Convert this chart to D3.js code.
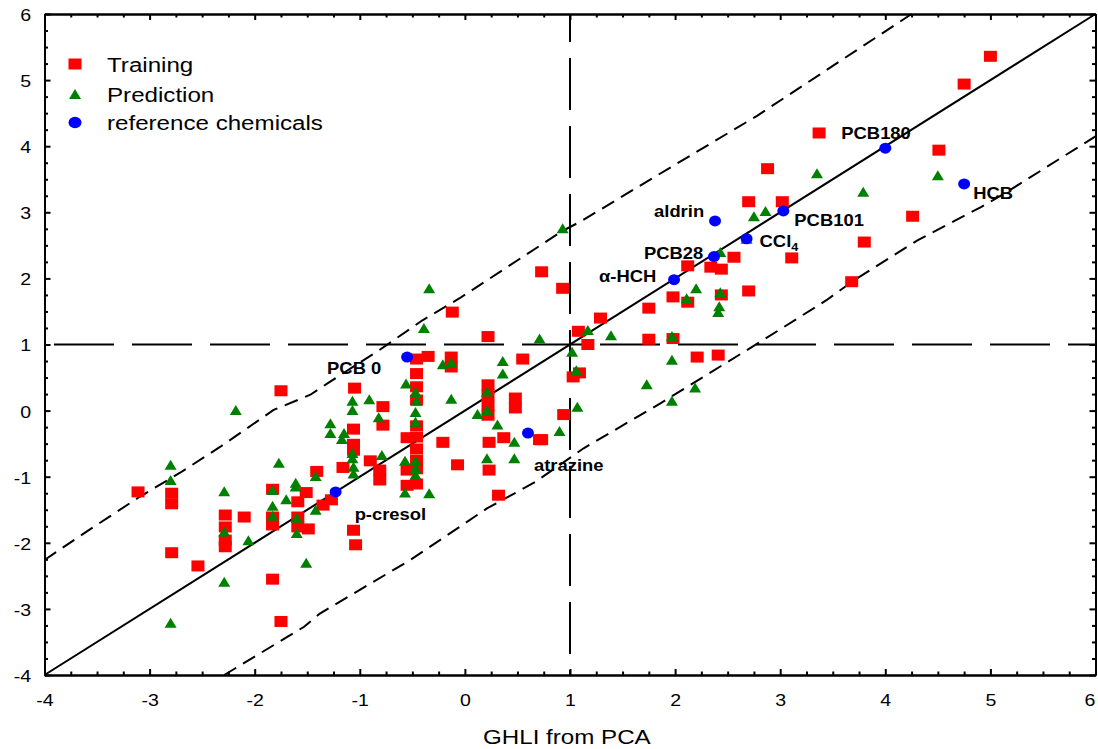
<!DOCTYPE html>
<html>
<head>
<meta charset="utf-8">
<script src="https://cdnjs.cloudflare.com/ajax/libs/d3/7.8.5/d3.min.js"></script>
<style>
  body { margin: 0; background: #fff; }
  svg text { font-family: "Liberation Sans", Arial, Helvetica, sans-serif; fill: #000; }
</style>
</head>
<body>
<div id="scatter"></div>
<script>
// Values (x = GHLI from PCA, y = predicted)
var training = [
  [5.00,5.36],[4.75,4.94],[3.37,4.20],[4.51,3.94],[2.88,3.66],[2.70,3.16],[3.02,3.16],[4.26,2.94],
  [3.80,2.55],[3.11,2.31],[2.56,2.32],[2.12,2.19],[2.34,2.17],[2.44,2.14],[2.70,1.81],[2.44,1.75],
  [2.12,1.64],[1.98,1.72],[1.75,1.55],[1.29,1.40],[0.93,1.85],[3.68,1.95],[0.73,2.10],[1.08,1.20],
  [1.17,1.00],[1.75,1.08],[1.98,1.09],[2.21,0.81],[2.41,0.84],[1.03,0.51],[1.09,0.57],[0.94,-0.06],
  [0.73,-0.44],[-0.12,1.49],[0.22,1.12],[-0.35,0.82],[-0.46,0.78],[-0.13,0.81],[-0.13,0.66],[0.55,0.78],
  [-0.46,0.56],[-0.46,0.36],[-0.46,0.16],[0.22,0.39],[0.22,0.24],[0.22,0.08],[0.22,-0.07],[0.48,0.19],
  [0.48,0.04],[-0.78,0.06],[-0.78,-0.22],[-0.55,-0.41],[-0.46,-0.23],[-0.46,-0.40],[-0.46,-0.58],[-0.46,-0.75],
  [-0.46,-0.88],[-0.46,-1.11],[-0.21,-0.48],[0.23,-0.48],[0.37,-0.41],[0.71,-0.44],[-0.07,-0.82],[0.23,-0.90],
  [-0.55,-0.90],[-0.55,-1.13],[0.32,-1.28],[-1.05,0.34],[-1.06,-0.28],[-1.06,-0.51],[-1.06,-0.60],[-1.16,-0.86],
  [-0.90,-0.76],[-0.81,-0.90],[-0.81,-1.05],[-1.41,-0.92],[-1.51,-1.24],[-1.27,-1.35],[-1.35,-1.43],[-1.83,-1.19],
  [-1.59,-1.38],[-2.28,-1.58],[-2.10,-1.61],[-1.83,-1.61],[-1.83,-1.73],[-1.59,-1.61],[-1.59,-1.76],[-1.49,-1.79],
  [-2.28,-1.76],[-2.28,-1.96],[-2.28,-2.06],[-1.06,-1.81],[-1.04,-2.03],[-1.75,0.30],[-3.11,-1.23],[-2.79,-1.25],
  [-2.79,-1.41],[-2.79,-2.15],[-2.54,-2.35],[-1.83,-2.55],[-1.75,-3.19]
];

var prediction = [
  [0.93,2.76],[3.35,3.59],[4.50,3.56],[3.79,3.31],[2.75,2.94],[2.86,3.02],[2.68,2.60],[2.43,2.40],
  [2.20,1.85],[2.11,1.70],[2.43,1.79],[2.42,1.58],[2.41,1.49],[1.17,1.22],[1.39,1.14],[1.02,0.89],
  [1.06,0.61],[1.97,1.13],[1.97,0.77],[1.73,0.40],[2.19,0.35],[1.97,0.15],[1.07,0.06],[0.90,-0.31],
  [0.71,1.09],[-0.34,1.85],[-0.39,1.25],[-0.21,0.70],[-0.13,0.73],[0.36,0.75],[0.36,0.56],[-0.56,0.41],
  [-0.13,0.18],[-0.47,0.28],[-0.46,0.15],[-0.47,-0.02],[-0.47,-0.17],[0.21,0.29],[0.21,0.01],[0.12,-0.05],
  [0.31,-0.21],[0.47,-0.47],[0.21,-0.72],[0.47,-0.72],[-0.79,-0.67],[-0.57,-0.76],[-0.47,-0.76],[-0.47,-0.87],
  [-0.47,-0.97],[-0.57,-1.24],[-0.34,-1.25],[-0.91,0.17],[-1.07,0.15],[-1.07,0.01],[-0.82,-0.10],[-1.28,-0.19],
  [-1.28,-0.34],[-1.15,-0.34],[-1.17,-0.43],[-1.07,-0.64],[-1.07,-0.72],[-1.06,-0.85],[-1.06,-0.95],[-1.42,-0.99],
  [-1.61,-1.09],[-1.61,-1.15],[-2.29,-1.22],[-1.83,-1.20],[-1.70,-1.34],[-1.83,-1.44],[-1.83,-1.59],[-1.60,-1.62],
  [-1.42,-1.50],[-2.29,-1.83],[-2.06,-1.96],[-1.60,-1.85],[-2.18,0.01],[-1.77,-0.79],[-2.80,-0.82],[-2.80,-1.05],
  [-2.29,-2.59],[-2.80,-3.21],[-1.51,-2.30]
];

var refNames = ["PCB180", "HCB", "aldrin", "PCB101", "CCl", "PCB28", "\u03b1-HCH", "PCB 0", "p-cresol", "atrazine"];
var refValues = [
  [4.00,3.97],[4.75,3.43],[2.38,2.87],[3.03,3.02],[2.68,2.60],[2.37,2.33],[1.99,1.98],[-0.55,0.81],[-1.23,-1.23],[0.60,-0.34]
];
// where each name sits relative to its point, in pixels (text start, baseline)
var labelOffsets = [[-44,-9],[9,15],[-61,-4],[11,15],[13,8],[-70,2],[-75,2],[-80,17],[19,28],[6,38]];

var upperBand = [
  [-4.00,-2.26],[-3.60,-1.83],[-3.09,-1.30],[-2.71,-0.94],[-2.33,-0.55],[-1.82,0.01],[-1.47,0.24],[-1.30,0.42],
  [-0.81,0.92],[-0.40,1.37],[-0.05,1.70],[0.92,2.71],[1.10,2.86],[1.81,3.54],[2.78,4.46],[4.25,6.00]
];
var lowerBand = [
  [-2.29,-4.00],[-1.53,-3.27],[-1.38,-3.07],[-0.52,-2.26],[0.21,-1.48],[0.67,-1.08],[1.13,-0.57],[1.86,0.11],
  [2.81,1.04],[3.44,1.67],[3.71,1.98],[4.31,2.58],[4.91,3.08],[5.14,3.29],[6.00,4.15]
];
var fitLine = [[-4,-4],[6,6]];
var cutOff = 1;

var majorTicks = [-4,-3,-2,-1,0,1,2,3,4,5,6];
var minorTicks = d3.range(-4, 6.001, 0.25).filter(d => d % 1 !== 0);
var legendNames = ["Training", "Prediction", "reference chemicals"];
var xTitle = "GHLI from PCA";

// SVG area and margins
var svgWidth = 1098;
var svgHeight = 749;
var chartMargin = { top: 14, right: 2.5, bottom: 74, left: 44.5 };
var chartWidth = svgWidth - chartMargin.left - chartMargin.right;
var chartHeight = svgHeight - chartMargin.top - chartMargin.bottom;

// the source picture is a little wider than tall, so text gets stretched the same way
var stretch = 1.15;
function widen(sel) {
  sel.each(function() {
    var t = d3.select(this);
    var x = +t.attr("x") || 0, y = +t.attr("y") || 0;
    t.attr("x", 0).attr("y", 0)
      .attr("transform", `translate(${x},${y}) scale(${stretch},1)`);
  });
}

var svg = d3.select("#scatter")
  .append("svg")
  .attr("width", svgWidth)
  .attr("height", svgHeight);

var chartGroup = svg.append("g")
  .attr("transform", `translate(${chartMargin.left}, ${chartMargin.top})`);

var xScale = d3.scaleLinear().domain([-4, 6]).range([0, chartWidth]);
var yScale = d3.scaleLinear().domain([-4, 6]).range([chartHeight, 0]);

var line = d3.line().x(d => xScale(d[0])).y(d => yScale(d[1]));

// cut-off lines at 1
chartGroup.append("line")
  .attr("x1", 0).attr("x2", chartWidth)
  .attr("y1", yScale(cutOff)).attr("y2", yScale(cutOff))
  .attr("stroke", "#000").attr("stroke-width", 2)
  .attr("stroke-dasharray", "60,18").attr("stroke-dashoffset", 68.5);

chartGroup.append("line")
  .attr("x1", xScale(cutOff)).attr("x2", xScale(cutOff))
  .attr("y1", 0).attr("y2", chartHeight)
  .attr("stroke", "#000").attr("stroke-width", 2)
  .attr("stroke-dasharray", "52,16").attr("stroke-dashoffset", 24);

// prediction bands and 1:1 line
[upperBand, lowerBand].forEach(function(band) {
  chartGroup.append("path")
    .datum(band)
    .attr("d", line)
    .attr("fill", "none")
    .attr("stroke", "#000")
    .attr("stroke-width", 2)
    .attr("stroke-dasharray", "14,8");
});

chartGroup.append("path")
  .datum(fitLine)
  .attr("d", line)
  .attr("fill", "none")
  .attr("stroke", "#000")
  .attr("stroke-width", 2);

// axes: labels on bottom / left, ticks inward on all four sides
function styleAxis(g) {
  g.attr("font-size", null).attr("font-family", null);
  g.select(".domain").attr("stroke-width", 2);
  g.selectAll(".tick line").attr("stroke-width", 2);
}

var bottomAxis = d3.axisBottom(xScale).tickValues(majorTicks).tickSize(-6).tickSizeOuter(0)
  .tickPadding(19).tickFormat(d => String(d));
var leftAxis = d3.axisLeft(yScale).tickValues(majorTicks).tickSize(-6).tickSizeOuter(0)
  .tickPadding(13.5).tickFormat(d => String(d));

chartGroup.append("g").attr("transform", `translate(0, ${chartHeight})`)
  .call(d3.axisBottom(xScale).tickValues(minorTicks).tickSize(-3.5).tickSizeOuter(0).tickFormat(""))
  .call(styleAxis);
chartGroup.append("g").call(d3.axisTop(xScale).tickValues(minorTicks).tickSize(-3.5).tickSizeOuter(0).tickFormat(""))
  .call(styleAxis);
chartGroup.append("g").call(d3.axisLeft(yScale).tickValues(minorTicks).tickSize(-3.5).tickSizeOuter(0).tickFormat(""))
  .call(styleAxis);
chartGroup.append("g").attr("transform", `translate(${chartWidth}, 0)`)
  .call(d3.axisRight(yScale).tickValues(minorTicks).tickSize(-3.5).tickSizeOuter(0).tickFormat(""))
  .call(styleAxis);

chartGroup.append("g").call(d3.axisTop(xScale).tickValues(majorTicks).tickSize(-6).tickSizeOuter(0).tickFormat(""))
  .call(styleAxis);
chartGroup.append("g").attr("transform", `translate(${chartWidth}, 0)`)
  .call(d3.axisRight(yScale).tickValues(majorTicks).tickSize(-6).tickSizeOuter(0).tickFormat(""))
  .call(styleAxis);

var xAxisG = chartGroup.append("g")
  .attr("transform", `translate(0, ${chartHeight})`)
  .call(bottomAxis)
  .call(styleAxis);
// keep the last label inside the page edge
xAxisG.selectAll("text")
  .attr("font-size", 17)
  .attr("dy", "0.71em")
  .attr("x", d => d === 6 ? -6 : 0)
  .call(widen);

var yAxisG = chartGroup.append("g")
  .call(leftAxis)
  .call(styleAxis);
yAxisG.selectAll("text").attr("font-size", 17).attr("dy", "0.38em").call(widen);

svg.append("text")
  .attr("x", chartMargin.left + xScale(0.97))
  .attr("y", 744)
  .attr("text-anchor", "middle")
  .attr("font-size", 21)
  .text(xTitle)
  .call(widen);

// markers
var sqW = 13, sqH = 11;
function trianglePath(cx, cy) {
  return `M${cx},${cy - 5}L${cx + 6},${cy + 5}L${cx - 6},${cy + 5}Z`;
}

chartGroup.append("g").selectAll("rect")
  .data(training)
  .enter()
  .append("rect")
  .attr("x", d => xScale(d[0]) - sqW / 2)
  .attr("y", d => yScale(d[1]) - sqH / 2)
  .attr("width", sqW)
  .attr("height", sqH)
  .attr("fill", "#ff0000");

chartGroup.append("g").selectAll("path")
  .data(prediction)
  .enter()
  .append("path")
  .attr("d", d => trianglePath(xScale(d[0]), yScale(d[1])))
  .attr("fill", "#008000");

chartGroup.append("g").selectAll("ellipse")
  .data(refValues)
  .enter()
  .append("ellipse")
  .attr("cx", d => xScale(d[0]))
  .attr("cy", d => yScale(d[1]))
  .attr("rx", 6)
  .attr("ry", 5.5)
  .attr("fill", "#0000ff");

// reference chemical names
var labelG = chartGroup.append("g");
refValues.forEach(function(d, i) {
  var t = labelG.append("text")
    .attr("x", xScale(d[0]) + labelOffsets[i][0])
    .attr("y", yScale(d[1]) + labelOffsets[i][1])
    .attr("font-size", 16)
    .attr("font-weight", "bold")
    .text(refNames[i]);
  if (refNames[i] === "CCl") {
    t.append("tspan").attr("font-size", 11).attr("dy", 4).text("4");
  }
  t.call(widen);
});

// legend
var legend = svg.append("g");
var legendRows = [64, 94, 122.5];
legendNames.forEach(function(name, i) {
  var cy = legendRows[i];
  if (i === 0) {
    legend.append("rect").attr("x", 75 - sqW / 2).attr("y", cy - sqH / 2)
      .attr("width", sqW).attr("height", sqH).attr("fill", "#ff0000");
  } else if (i === 1) {
    legend.append("path").attr("d", trianglePath(75, cy)).attr("fill", "#008000");
  } else {
    legend.append("ellipse").attr("cx", 75).attr("cy", cy).attr("rx", 6.5).attr("ry", 5.8).attr("fill", "#0000ff");
  }
  legend.append("text")
    .attr("x", 107)
    .attr("y", cy + 7.5)
    .attr("font-size", 21)
    .text(name)
    .call(widen);
});
</script>
</body>
</html>
